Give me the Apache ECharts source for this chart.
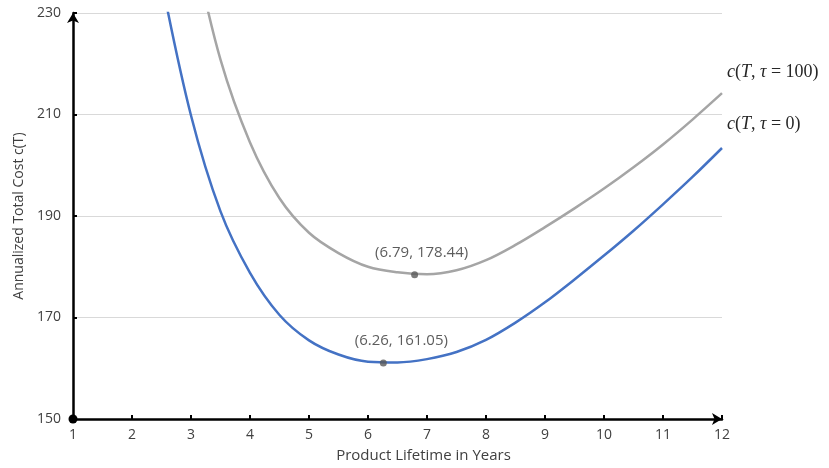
<!DOCTYPE html>
<html>
<head>
<meta charset="utf-8">
<script src="https://cdn.jsdelivr.net/npm/echarts@6/dist/echarts.min.js"></script>
<style>
  html, body { margin: 0; padding: 0; background: #fff; }
  #main { width: 829px; height: 468px; }
</style>
</head>
<body>
<div id="main"></div>
<script>
// product lifetime T (years)
const lifetime = [2.5, 3, 3.5, 4, 4.5, 5, 5.5, 6, 6.5, 7, 7.5, 8, 8.5, 9, 9.5, 10, 10.5, 11, 11.5, 12];
// c(T, tau = 0)
const costTau0 = [236.5, 209.8, 190.9, 178.8, 170.5, 165.5, 162.7, 161.3, 161.15, 161.8, 163.2, 165.6, 169.0, 173.0, 177.5, 182.2, 187.1, 192.3, 197.7, 203.4];
// c(T, tau = 100)
const costTau100 = [268, 244.8, 220.8, 204.5, 193.5, 186.7, 182.7, 180.0, 178.9, 178.5, 179.3, 181.3, 184.3, 187.8, 191.5, 195.4, 199.6, 204.1, 209.0, 214.2];
const minTau0 = [6.26, 161.05];
const minTau100 = [6.79, 178.44];
const xTicks = [1, 12, 1];
const yTicks = [150, 230, 20];

const myChart = echarts.init(document.getElementById('main'));
let option;

const pairs = (ys) => lifetime.map((t, i) => [t, ys[i]]);
const ptLabel = (p) => '(' + p.value[0] + ', ' + p.value[1] + ')';
const mathRich = {
  i: { fontFamily: 'Liberation Serif', fontStyle: 'italic', fontSize: 18, color: '#262626' },
  n: { fontFamily: 'Liberation Serif', fontSize: 18, color: '#262626' }
};

option = {
  animation: false,
  textStyle: { fontFamily: 'Open Sans' },
  grid: { left: 73, right: 107, top: 13, bottom: 47 },
  xAxis: {
    type: 'value',
    min: xTicks[0],
    max: xTicks[1],
    interval: xTicks[2],
    name: 'Product Lifetime in Years',
    nameLocation: 'middle',
    nameGap: 29,
    nameTextStyle: { fontSize: 15, color: '#404040', padding: [0, 0, 0, 52] },
    axisLine: { lineStyle: { color: '#000', width: 2.5 }, symbol: ['circle', 'arrow'], symbolSize: [9, 10] },
    axisTick: { inside: true, length: 4, lineStyle: { color: '#000', width: 2 } },
    axisLabel: { fontSize: 14, color: '#404040', margin: 9 },
    splitLine: { show: false }
  },
  yAxis: {
    type: 'value',
    min: yTicks[0],
    max: yTicks[1],
    interval: yTicks[2],
    name: 'Annualized Total Cost c(T)',
    nameLocation: 'middle',
    nameGap: 46,
    nameTextStyle: { fontSize: 14, color: '#404040' },
    axisLine: { show: true, lineStyle: { color: '#000', width: 2.5 }, symbol: ['none', 'arrow'], symbolSize: [9, 10] },
    axisTick: { show: true, inside: true, length: 4, lineStyle: { color: '#000', width: 2 } },
    axisLabel: { fontSize: 14, color: '#404040', margin: 12 },
    splitLine: { lineStyle: { color: '#d9d9d9', width: 1.2 } }
  },
  series: [
    {
      name: 'tau100',
      type: 'line',
      data: pairs(costTau100),
      smooth: 0.35,
      showSymbol: false,
      clip: true,
      lineStyle: { color: '#a5a5a5', width: 2.5 },
      endLabel: {
        show: true,
        offset: [-3, -21],
        formatter: '{i|c}{n|(}{i|T}{n|, }{i|τ}{n| = 100)}',
        rich: mathRich
      }
    },
    {
      name: 'tau0',
      type: 'line',
      data: pairs(costTau0),
      smooth: 0.35,
      showSymbol: false,
      clip: true,
      lineStyle: { color: '#4472c4', width: 2.5 },
      endLabel: {
        show: true,
        offset: [-3, -24],
        formatter: '{i|c}{n|(}{i|T}{n|, }{i|τ}{n| = 0)}',
        rich: mathRich
      }
    },
    {
      name: 'minima',
      type: 'scatter',
      symbolSize: 7,
      itemStyle: { color: '#595959' },
      z: 5,
      data: [
        { value: minTau100, label: { offset: [7, 0] } },
        { value: minTau0, label: { offset: [18, 0] } }
      ],
      label: {
        show: true,
        position: 'top',
        distance: 11,
        fontSize: 15,
        color: '#333',
        formatter: ptLabel
      }
    }
  ]
};

option && myChart.setOption(option);
</script>
</body>
</html>
